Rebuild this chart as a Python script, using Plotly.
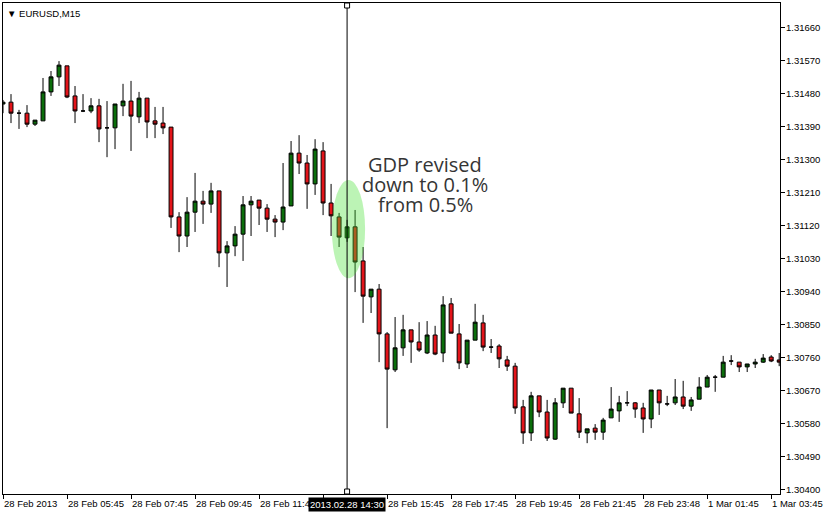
import plotly.graph_objects as go

# ---------------- data (EURUSD, M15) ----------------
opens = [1.31450, 1.31455, 1.31425, 1.31425, 1.31395, 1.31404, 1.31483, 1.31524, 1.31554, 1.31472,
         1.31431, 1.31431, 1.31445, 1.31385, 1.31385, 1.31445, 1.31458, 1.31415, 1.31466, 1.31404,
         1.31398, 1.31387, 1.31142, 1.31090, 1.31155, 1.31185, 1.31177, 1.31213, 1.31044, 1.31063,
         1.31095, 1.31175, 1.31188, 1.31166, 1.31136, 1.31128, 1.31172, 1.31316, 1.31289, 1.31232,
         1.31322, 1.31180, 1.31142, 1.31085, 1.31115, 1.31022, 1.30924, 1.30945, 1.30823, 1.30725,
         1.30785, 1.30834, 1.30801, 1.30771, 1.30820, 1.30771, 1.30905, 1.30823, 1.30741, 1.30806,
         1.30853, 1.30787, 1.30790, 1.30752, 1.30735, 1.30624, 1.30553, 1.30654, 1.30610, 1.30536,
         1.30635, 1.30675, 1.30605, 1.30553, 1.30566, 1.30555, 1.30594, 1.30613, 1.30635, 1.30635,
         1.30621, 1.30591, 1.30670, 1.30632, 1.30635, 1.30651, 1.30626, 1.30645, 1.30678, 1.30705,
         1.30705, 1.30749, 1.30746, 1.30733, 1.30741, 1.30746, 1.30760, 1.30752]
highs = [1.31461, 1.31477, 1.31434, 1.31447, 1.31406, 1.31521, 1.31540, 1.31567, 1.31554, 1.31499,
         1.31477, 1.31466, 1.31464, 1.31458, 1.31450, 1.31505, 1.31513, 1.31483, 1.31466, 1.31442,
         1.31442, 1.31387, 1.31155, 1.31196, 1.31262, 1.31213, 1.31235, 1.31213, 1.31076, 1.31117,
         1.31199, 1.31199, 1.31188, 1.31177, 1.31147, 1.31289, 1.31349, 1.31365, 1.31311, 1.31354,
         1.31346, 1.31232, 1.31153, 1.31134, 1.31161, 1.31060, 1.30945, 1.30959, 1.30828, 1.30869,
         1.30875, 1.30834, 1.30855, 1.30858, 1.30845, 1.30926, 1.30921, 1.30850, 1.30806, 1.30905,
         1.30875, 1.30809, 1.30795, 1.30763, 1.30744, 1.30643, 1.30665, 1.30654, 1.30643, 1.30648,
         1.30675, 1.30675, 1.30648, 1.30564, 1.30577, 1.30594, 1.30678, 1.30654, 1.30667, 1.30637,
         1.30635, 1.30670, 1.30670, 1.30654, 1.30700, 1.30695, 1.30651, 1.30705, 1.30711, 1.30711,
         1.30763, 1.30765, 1.30746, 1.30741, 1.30755, 1.30768, 1.30765, 1.30771]
lows = [1.31425, 1.31398, 1.31382, 1.31387, 1.31390, 1.31404, 1.31472, 1.31499, 1.31466, 1.31398,
        1.31428, 1.31425, 1.31346, 1.31305, 1.31327, 1.31417, 1.31322, 1.31398, 1.31357, 1.31357,
        1.31368, 1.31112, 1.31046, 1.31060, 1.31101, 1.31123, 1.31153, 1.31005, 1.30951, 1.31035,
        1.31022, 1.31090, 1.31120, 1.31101, 1.31087, 1.31106, 1.31172, 1.31259, 1.31164, 1.31202,
        1.31147, 1.31090, 1.31060, 1.31074, 1.30937, 1.30853, 1.30880, 1.30746, 1.30566, 1.30719,
        1.30763, 1.30744, 1.30774, 1.30768, 1.30765, 1.30746, 1.30825, 1.30727, 1.30730, 1.30806,
        1.30776, 1.30771, 1.30730, 1.30722, 1.30605, 1.30523, 1.30531, 1.30596, 1.30531, 1.30534,
        1.30621, 1.30607, 1.30539, 1.30525, 1.30534, 1.30534, 1.30594, 1.30583, 1.30626, 1.30594,
        1.30553, 1.30566, 1.30602, 1.30626, 1.30629, 1.30618, 1.30613, 1.30645, 1.30678, 1.30665,
        1.30705, 1.30738, 1.30719, 1.30719, 1.30730, 1.30744, 1.30746, 1.30735]
closes = [1.31455, 1.31425, 1.31425, 1.31395, 1.31406, 1.31483, 1.31524, 1.31556, 1.31469, 1.31431,
          1.31431, 1.31445, 1.31382, 1.31385, 1.31450, 1.31458, 1.31417, 1.31466, 1.31401, 1.31395,
          1.31385, 1.31142, 1.31090, 1.31155, 1.31185, 1.31177, 1.31213, 1.31044, 1.31063, 1.31095,
          1.31175, 1.31185, 1.31166, 1.31136, 1.31128, 1.31169, 1.31316, 1.31289, 1.31232, 1.31327,
          1.31180, 1.31145, 1.31087, 1.31115, 1.31019, 1.30926, 1.30945, 1.30823, 1.30727, 1.30785,
          1.30834, 1.30801, 1.30779, 1.30820, 1.30768, 1.30902, 1.30825, 1.30744, 1.30806, 1.30855,
          1.30787, 1.30787, 1.30755, 1.30735, 1.30621, 1.30553, 1.30654, 1.30610, 1.30539, 1.30635,
          1.30675, 1.30607, 1.30555, 1.30564, 1.30555, 1.30588, 1.30618, 1.30635, 1.30635, 1.30618,
          1.30591, 1.30670, 1.30635, 1.30632, 1.30651, 1.30626, 1.30643, 1.30678, 1.30705, 1.30705,
          1.30746, 1.30749, 1.30733, 1.30741, 1.30746, 1.30757, 1.30749, 1.30746]

bars = list(range(len(opens)))

# x-axis tick positions (bar index) and labels
tick_bars = [0, 8, 16, 24, 32, 40, 48, 56, 64, 72, 80, 88, 96]
tick_labels = ["28 Feb 2013", "28 Feb 05:45", "28 Feb 07:45", "28 Feb 09:45", "28 Feb 11:45",
               "28 Feb 13:45", "28 Feb 15:45", "28 Feb 17:45", "28 Feb 19:45", "28 Feb 21:45",
               "28 Feb 23:48", "1 Mar 01:45", "1 Mar 03:45"]

# price ticks
price_ticks = [1.30400, 1.30490, 1.30580, 1.30670, 1.30760, 1.30850, 1.30940, 1.31030,
               1.31120, 1.31210, 1.31300, 1.31390, 1.31480, 1.31570, 1.31660]

cursor_bar = 43
cursor_label = "2013.02.28 14:30"
symbol_label = "EURUSD,M15"
note_lines = ["GDP revised", "down to 0.1%", "from 0.5%"]
# highlighted region (bar range and price range)
hl_bars = [41.1, 45.25]
hl_prices = [1.30975, 1.31243]

GREEN = "#0b6e0b"
RED = "#e3141a"
FONT = "Liberation Sans"

fig = go.Figure()
fig.add_trace(go.Candlestick(
    x=bars, open=opens, high=highs, low=lows, close=closes,
    increasing=dict(line=dict(color="black", width=1), fillcolor=GREEN),
    decreasing=dict(line=dict(color="black", width=1), fillcolor=RED),
    whiskerwidth=0, hoverinfo="skip", showlegend=False,
))

shapes = [
    dict(type="circle", xref="x", yref="y",
         x0=hl_bars[0], x1=hl_bars[1], y0=hl_prices[0], y1=hl_prices[1],
         fillcolor="rgba(70,225,50,0.36)", line=dict(width=0), layer="above"),
    dict(type="line", xref="x", yref="paper", x0=cursor_bar, x1=cursor_bar, y0=0, y1=1,
         line=dict(color="black", width=1), layer="above"),
    dict(type="rect", xref="x", yref="paper", xsizemode="pixel", ysizemode="pixel",
         xanchor=cursor_bar, yanchor=1, x0=-2.5, x1=2.5, y0=-5, y1=0,
         fillcolor="white", line=dict(color="black", width=1), layer="above"),
    dict(type="rect", xref="x", yref="paper", xsizemode="pixel", ysizemode="pixel",
         xanchor=cursor_bar, yanchor=0, x0=-2.5, x1=2.5, y0=0, y1=5,
         fillcolor="white", line=dict(color="black", width=1), layer="above"),
]

annotations = []
for b, lab in zip(tick_bars, tick_labels):
    annotations.append(dict(x=b, y=0, xref="x", yref="paper", text=lab, showarrow=False,
                            xanchor="left", yanchor="top", yshift=-2, xshift=-1,
                            font=dict(family=FONT, size=9.5, color="black")))
annotations.append(dict(x=cursor_bar, y=0, xref="x", yref="paper", text=cursor_label,
                        showarrow=False, xanchor="center", yanchor="top", yshift=-3,
                        bgcolor="black", borderpad=1,
                        font=dict(family=FONT, size=9.5, color="white")))
annotations.append(dict(x=0, y=1, xref="paper", yref="paper", text="\u25bc " + symbol_label,
                        showarrow=False, xanchor="left", yanchor="top", xshift=2, yshift=-3,
                        font=dict(family=FONT, size=9.5, color="black")))
for v in price_ticks:
    annotations.append(dict(x=1, y=v, xref="paper", yref="y", text=f"{v:.5f}", showarrow=False,
                            xanchor="left", yanchor="middle", xshift=4,
                            font=dict(family=FONT, size=9.5, color="black")))
note_y = [0.671, 0.630, 0.589]
for txt, yy in zip(note_lines, note_y):
    annotations.append(dict(x=52.75, y=yy, xref="x", yref="paper", text=txt, showarrow=False,
                            xanchor="center", yanchor="middle",
                            font=dict(family="Open Sans", size=20, color="#353535")))

fig.update_layout(
    width=824, height=512,
    margin=dict(l=3, r=44, t=3, b=18),
    paper_bgcolor="white", plot_bgcolor="white",
    shapes=shapes, annotations=annotations,
    showlegend=False,
    xaxis=dict(range=[0, 97.1], rangeslider=dict(visible=False), showgrid=False, zeroline=False,
               showline=True, mirror=True, linecolor="black", linewidth=1,
               tickmode="array", tickvals=tick_bars, ticktext=[""] * len(tick_bars),
               ticks="outside", ticklen=4, tickcolor="black", showticklabels=False),
    yaxis=dict(range=[1.3038636, 1.3172545], side="right", showgrid=False, zeroline=False,
               showline=True, mirror=True, linecolor="black", linewidth=1,
               tickmode="array", tickvals=price_ticks, showticklabels=False,
               ticks="outside", ticklen=4, tickcolor="black"),
    hovermode=False,
    boxgap=0.3, boxgroupgap=0.3,
)

fig.write_html("out.html", config={"displayModeBar": False},
               post_script="document.body.style.margin='0';document.body.style.overflow='hidden';")
